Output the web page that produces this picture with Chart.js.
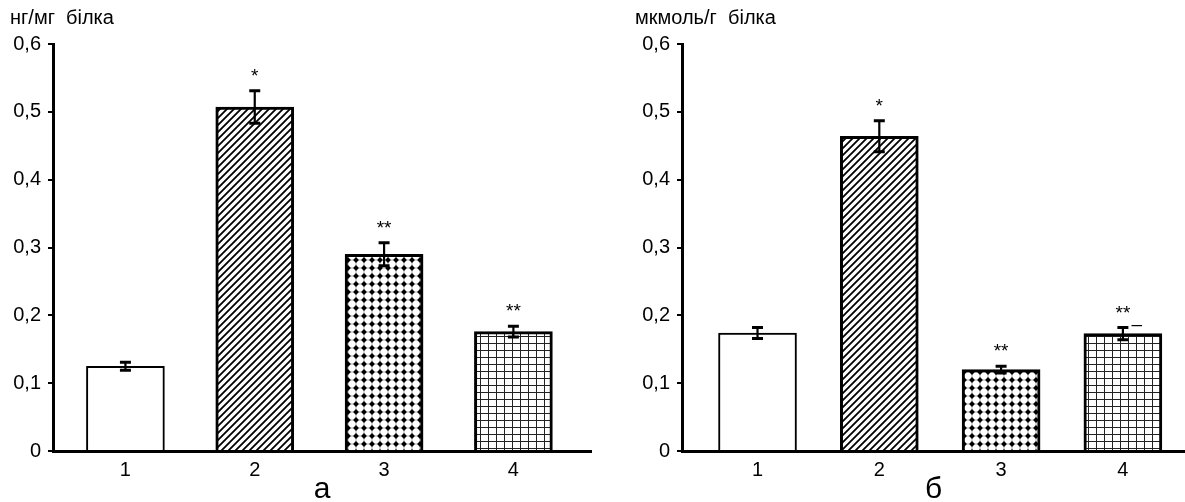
<!DOCTYPE html>
<html>
<head>
<meta charset="utf-8">
<script src="https://cdn.jsdelivr.net/npm/chart.js@4.4.1/dist/chart.umd.min.js"></script>
<style>
  body { margin: 0; background: #fff; }
  #wrap { position: relative; width: 1185px; height: 502px; }
  canvas { position: absolute; top: 0; }
</style>
</head>
<body>
<div id="wrap">
  <canvas id="chartA" width="592" height="502" style="left:0"></canvas>
  <canvas id="chartB" width="593" height="502" style="left:592px"></canvas>
</div>
<script>
// data
const groups = [1, 2, 3, 4];
const groupLabels = ['1', '2', '3', '4'];
const yTicks = [0, 0.1, 0.2, 0.3, 0.4, 0.5, 0.6];

// а: нг/мг білка
const valuesA = [0.125, 0.507, 0.290, 0.176];
const errorsA = [0.006, 0.024, 0.017, 0.008];
const marksA = ['', '*', '**', '**'];

// б: мкмоль/г білка
const valuesB = [0.174, 0.464, 0.120, 0.173];
const errorsB = [0.008, 0.023, 0.005, 0.009];
const marksB = ['', '*', '**', '**'];

const FONT = 'Liberation Sans, Arial, sans-serif';

// fill patterns for bars 2-4
function makePattern(kind) {
    const c = document.createElement('canvas');
    if (kind === 'hatch') { c.width = 7; c.height = 7; }
    else if (kind === 'dots') { c.width = 8; c.height = 8; }
    else { c.width = 8; c.height = 7; }
    const g = c.getContext('2d');
    g.fillStyle = '#fff';
    g.fillRect(0, 0, c.width, c.height);
    g.fillStyle = '#000';
    g.strokeStyle = '#000';
    if (kind === 'hatch') {
        g.lineWidth = 1.8;
        g.beginPath();
        g.moveTo(-1, 8); g.lineTo(8, -1);
        g.moveTo(-1, 1); g.lineTo(1, -1);
        g.moveTo(6, 8); g.lineTo(8, 6);
        g.stroke();
    } else if (kind === 'dots') {
        g.fillStyle = '#aaa';
        g.fillRect(0, 3.5, 8, 1);
        g.fillRect(3.5, 0, 1, 8);
        g.fillStyle = '#000';
        g.beginPath();
        g.moveTo(4, 1.1); g.lineTo(6.9, 4); g.lineTo(4, 6.9); g.lineTo(1.1, 4);
        g.closePath();
        g.fill();
    } else {
        g.fillStyle = '#222';
        g.fillRect(0, 0, 8, 1);
        g.fillRect(0, 0, 1, 7);
    }
    return g.createPattern(c, 'repeat');
}

const fills = ['#fff', makePattern('hatch'), makePattern('dots'), makePattern('grid')];

// error bars, significance marks, unit label
const extrasPlugin = {
    id: 'extras',
    afterDatasetsDraw(chart, args, opts) {
        const { ctx, scales: { x, y } } = chart;
        ctx.save();
        ctx.strokeStyle = '#000';
        ctx.fillStyle = '#000';
        opts.values.forEach((v, i) => {
            const cx = x.getPixelForValue(groups[i]);
            const top = y.getPixelForValue(v + opts.errors[i]);
            const bot = y.getPixelForValue(v - opts.errors[i]);
            ctx.lineWidth = 2.2;
            ctx.beginPath();
            ctx.moveTo(cx, top); ctx.lineTo(cx, bot);
            ctx.stroke();
            ctx.lineWidth = 3;
            ctx.beginPath();
            ctx.moveTo(cx - 5.5, top); ctx.lineTo(cx + 5.5, top);
            ctx.moveTo(cx - 5.5, bot); ctx.lineTo(cx + 5.5, bot);
            ctx.stroke();
            ctx.font = '19px ' + FONT;
            ctx.textAlign = 'center';
            ctx.textBaseline = 'alphabetic';
            if (opts.marks[i]) ctx.fillText(opts.marks[i], cx, top - 9);
            if (opts.note && opts.note.index === i) {
                ctx.textBaseline = 'middle';
                ctx.fillText(opts.note.text, cx + 14, top - 3);
            }
        });
        ctx.font = '20px ' + FONT;
        ctx.textAlign = 'left';
        ctx.textBaseline = 'middle';
        ctx.fillText(opts.unit, chart.chartArea.left - opts.unitDx, 18);
        ctx.restore();
    }
};

function createChart(id, values, errors, marks, unit, letter, cfg) {
    new Chart(document.getElementById(id), {
        type: 'bar',
        data: {
            datasets: [{
                data: groups.map((g, i) => ({ x: g, y: values[i] })),
                backgroundColor: fills,
                borderColor: '#000',
                borderWidth: [2, 3, 3, 3],
                barThickness: 78,
            }],
        },
        options: {
            responsive: false,
            animation: false,
            devicePixelRatio: 1,
            layout: { padding: { top: 44, right: cfg.padRight, bottom: 0, left: 0 } },
            plugins: {
                legend: { display: false },
                tooltip: { enabled: false },
                extras: { values, errors, marks, unit, unitDx: cfg.unitDx, note: cfg.note },
            },
            scales: {
                x: {
                    type: 'linear',
                    offset: false,
                    bounds: 'data',
                    min: cfg.xMin,
                    max: cfg.xMax,
                    afterBuildTicks(s) { s.ticks = groups.map(v => ({ value: v })); },
                    afterFit(s) { s.height = 51; },
                    ticks: {
                        callback: v => groupLabels[groups.indexOf(v)],
                        font: { family: FONT, size: 20 },
                        color: '#000',
                        padding: 7,
                        maxRotation: 0,
                    },
                    grid: { display: false, drawTicks: false, offset: false },
                    border: { color: '#000', width: 3 },
                    title: {
                        display: true,
                        text: letter,
                        color: '#000',
                        font: { family: FONT, size: 30, lineHeight: 0.85 },
                        padding: { top: 0, bottom: 0 },
                    },
                },
                y: {
                    min: 0,
                    max: 0.6,
                    afterBuildTicks(s) { s.ticks = yTicks.map(v => ({ value: v })); },
                    afterFit(s) { s.width = cfg.yWidth; },
                    ticks: {
                        callback: v => v === 0 ? '0' : v.toFixed(1).replace('.', ','),
                        font: { family: FONT, size: 20 },
                        color: '#000',
                        padding: 7,
                    },
                    grid: { drawOnChartArea: false, color: '#000', lineWidth: 2, tickLength: 5 },
                    border: { color: '#000', width: 3 },
                },
            },
        },
        plugins: [extrasPlugin],
    });
}

createChart('chartA', valuesA, errorsA, marksA, 'нг/мг  білка', 'а',
    { xMin: 0.44, xMax: 4.6, yWidth: 53, padRight: 1, unitDx: 43 });
createChart('chartB', valuesB, errorsB, marksB, 'мкмоль/г  білка', 'б',
    { xMin: 0.38, xMax: 4.51, yWidth: 90, padRight: 0, unitDx: 47, note: { index: 3, text: '–' } });
</script>
</body>
</html>
